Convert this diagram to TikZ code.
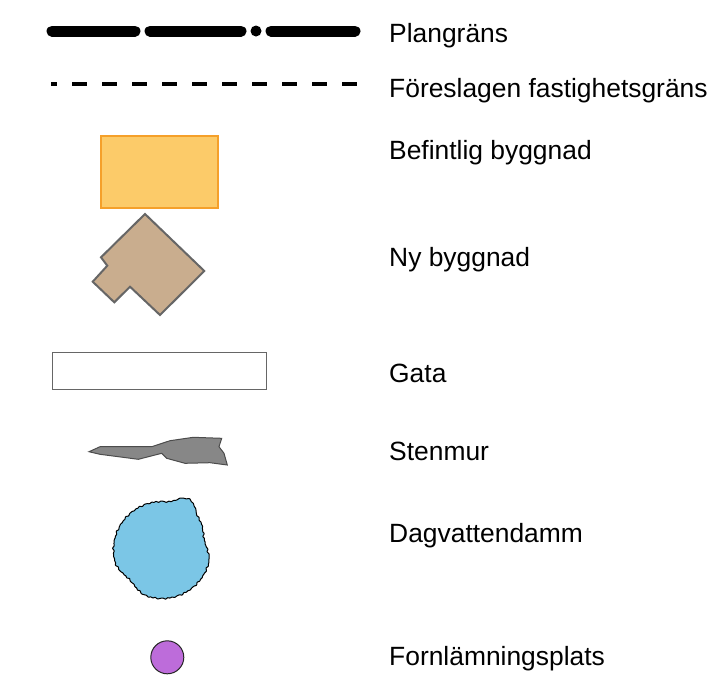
\documentclass[tikz,border=0pt]{standalone}
\usepackage{fontspec}
\setmainfont{Liberation Sans}

\definecolor{husgul}{HTML}{FCCB69}
\definecolor{huskant}{HTML}{F5A02A}
\definecolor{nyhus}{HTML}{C9AD8E}
\definecolor{murgra}{HTML}{878787}
\definecolor{dammbla}{HTML}{7BC6E6}
\definecolor{fornlila}{HTML}{BD6CDA}

\begin{document}
\begin{tikzpicture}[x=1pt, y=-1pt,
    label/.style={anchor=base west, inner sep=0pt, font=\fontsize{26.4}{30}\selectfont},
    declare function={
      win(\va,\vc,\vh) = (abs(\va-\vc) < \vh) ? cos(90/\vh*(\va-\vc))*cos(90/\vh*(\va-\vc)) : 0;
      krus(\va) = 0.35*sin(37*\va) + 0.3*sin(53*\va+20) + 0.25*sin(71*\va+50);
      dr(\va) = 48.5 + 9*win(\va,62,22) - 5*win(\va,13,30) - 4.5*win(\va,-137,30) + krus(\va);
    }]
    \useasboundingbox (0,0) rectangle (712,675);

    % Plangräns
    \draw[line width=11pt, line cap=round] (52,31) -- (135,31);
    \draw[line width=11pt, line cap=round] (150,31) -- (241,31);
    \fill (256,31) circle (5.5);
    \draw[line width=11pt, line cap=round] (271,31) -- (355,31);

    % Föreslagen fastighetsgräns
    \draw[line width=4pt, dash pattern=on 15pt off 15pt, dash phase=9pt] (51,84) -- (357,84);

    % Befintlig byggnad
    \draw[fill=husgul, draw=huskant, line width=2pt] (101,136) rectangle (218,208);

    % Ny byggnad
    \draw[fill=nyhus, draw=black!60, line width=2pt, line join=miter]
      (145,214) -- (204.3,271) -- (160,315) -- (130,286.7) -- (114.3,302.3)
      -- (92.7,281.7) -- (107.3,265.7) -- (101,257.3) -- cycle;

    % Gata
    \draw[fill=white, draw=black!60, line width=1pt] (52,352) rectangle (266,389);

    % Stenmur
    \draw[fill=murgra, draw=black!70, line width=1pt]
      (89,451.7) -- (100,446.7) -- (151.7,446.7) -- (170,440.7) -- (193.3,437.3)
      -- (221.7,438.3) -- (219,446.7) -- (224,453.3) -- (227.3,465) -- (210,462.7)
      -- (185,463.3) -- (166.7,458.3) -- (161.7,453.3) -- (138.3,459.3)
      -- (100,454.3) -- cycle;

    % Dagvattendamm
    \begin{scope}[shift={(162,550)}]
      \draw[fill=dammbla, draw=black, line width=1pt, line join=round]
        plot[variable=\a, domain=-180:180, samples=361] ({dr(\a)*cos(\a)}, {-dr(\a)*sin(\a)}) -- cycle;
    \end{scope}

    % Fornlämningsplats
    \draw[fill=fornlila, draw=black!85, line width=1pt] (167.3,657.3) circle (16.5);

    % Texter
    \node[label] (plangrans) at (389,42.7) {Plangräns};
    \node[label] (fastighet) at (389,97.3) {Föreslagen fastighetsgräns};
    \node[label] (befintlig) at (389,159.5) {Befintlig byggnad};
    \node[label] (nybyggnad) at (389,266) {Ny byggnad};
    \node[label] (gata) at (389,382) {Gata};
    \node[label] (stenmur) at (389,460) {Stenmur};
    \node[label] (damm) at (389,542.7) {Dagvattendamm};
    \node[label] (fornlamning) at (389,665.5) {Fornlämningsplats};
\end{tikzpicture}
\end{document}
